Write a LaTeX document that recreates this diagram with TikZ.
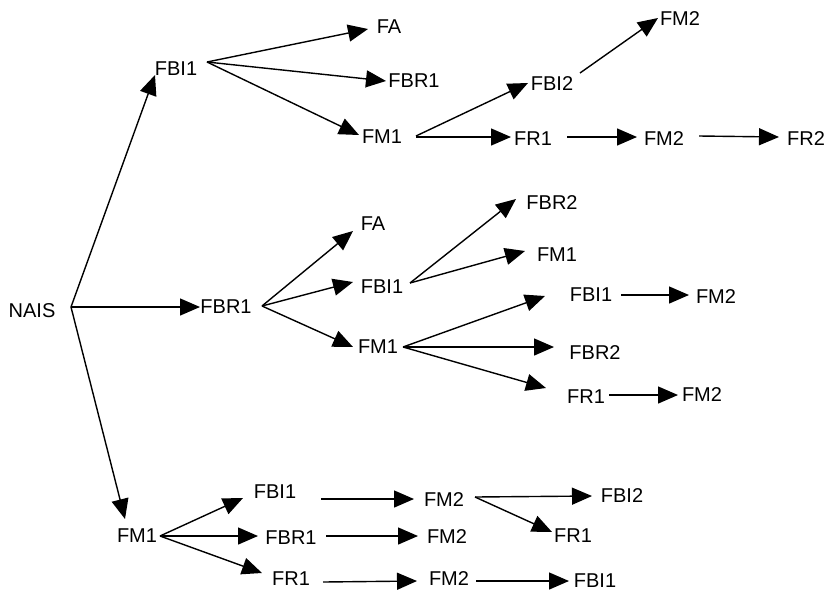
\documentclass[tikz,border=0pt]{standalone}
\usepackage{fontspec}
\setmainfont{Liberation Sans}
\usetikzlibrary{arrows.meta}
\begin{document}
\begin{tikzpicture}[x=1pt,y=-1pt,
  lbl/.style={anchor=base,inner sep=0pt,font=\fontsize{20}{23}\selectfont},
  arr/.style={line width=1.4pt,-{Triangle[length=20pt,width=17pt]}}]
\useasboundingbox[fill=white] (0,0) rectangle (826,592);
% nodes (anchor base at centre x, baseline)
\node[lbl] (nais)  at (32,317) {NAIS};
\node[lbl] (fbi1a) at (176,75) {FBI1};
\node[lbl] (faa)   at (389,33) {FA};
\node[lbl] (fbr1a) at (414,87) {FBR1};
\node[lbl] (fm1a)  at (382,143) {FM1};
\node[lbl] (fbi2a) at (552,90) {FBI2};
\node[lbl] (fm2a)  at (680,25) {FM2};
\node[lbl] (fr1a)  at (533,145) {FR1};
\node[lbl] (fm2b)  at (664,145) {FM2};
\node[lbl] (fr2a)  at (806,145) {FR2};
\node[lbl] (fbr1b) at (226,313) {FBR1};
\node[lbl] (fab)   at (373,230) {FA};
\node[lbl] (fbi1b) at (382,293) {FBI1};
\node[lbl] (fm1b)  at (378,353) {FM1};
\node[lbl] (fbr2a) at (552,209) {FBR2};
\node[lbl] (fm1c)  at (557,261) {FM1};
\node[lbl] (fbi1c) at (591,301) {FBI1};
\node[lbl] (fm2c)  at (716,303) {FM2};
\node[lbl] (fbr2b) at (595,359) {FBR2};
\node[lbl] (fr1b)  at (586,403) {FR1};
\node[lbl] (fm2d)  at (702,401) {FM2};
\node[lbl] (fm1d)  at (137,542) {FM1};
\node[lbl] (fbi1d) at (275,498) {FBI1};
\node[lbl] (fbr1d) at (291,544) {FBR1};
\node[lbl] (fr1d)  at (291,585) {FR1};
\node[lbl] (fm2e)  at (444,506) {FM2};
\node[lbl] (fm2f)  at (447,543) {FM2};
\node[lbl] (fm2g)  at (449,585) {FM2};
\node[lbl] (fbi2b) at (622,502) {FBI2};
\node[lbl] (fr1e)  at (573,542) {FR1};
\node[lbl] (fbi1e) at (595,587) {FBI1};
% connectors
\draw[arr] ([shift={(39,-10)}]nais.base) -- ([shift={(-21,0)}]fbi1a.base);
\draw[arr] ([shift={(39,-10)}]nais.base) -- ([shift={(-26,-6)}]fbr1b.base);
\draw[arr] ([shift={(39,-10)}]nais.base) -- ([shift={(-12,-23)}]fm1d.base);
\draw[arr] ([shift={(31,-13)}]fbi1a.base) -- ([shift={(-21,-4)}]faa.base);
\draw[arr] ([shift={(31,-13)}]fbi1a.base) -- ([shift={(-28,-6)}]fbr1a.base);
\draw[arr] ([shift={(31,-13)}]fbi1a.base) -- ([shift={(-23,-8)}]fm1a.base);
\draw[arr] ([shift={(34,-7)}]fm1a.base) -- ([shift={(-24,-7)}]fbi2a.base);
\draw[arr] ([shift={(34,-6)}]fm1a.base) -- ([shift={(-22,-8)}]fr1a.base);
\draw[arr] ([shift={(28,-17)}]fbi2a.base) -- ([shift={(-22,-7)}]fm2a.base);
\draw[arr] ([shift={(34,-8)}]fr1a.base) -- ([shift={(-27,-8)}]fm2b.base);
\draw[arr] ([shift={(35,-9)}]fm2b.base) -- ([shift={(-27,-8)}]fr2a.base);
\draw[arr] ([shift={(36,-7)}]fbr1b.base) -- ([shift={(-20,1)}]fab.base);
\draw[arr] ([shift={(36,-7)}]fbr1b.base) -- ([shift={(-29,-11)}]fbi1b.base);
\draw[arr] ([shift={(36,-7)}]fbr1b.base) -- ([shift={(-25,-6)}]fm1b.base);
\draw[arr] ([shift={(28,-10)}]fbi1b.base) -- ([shift={(-36,-10)}]fbr2a.base);
\draw[arr] ([shift={(28,-10)}]fbi1b.base) -- ([shift={(-32,-10)}]fm1c.base);
\draw[arr] ([shift={(25,-6)}]fm1b.base) -- ([shift={(-46,-5)}]fbi1c.base);
\draw[arr] ([shift={(25,-6)}]fm1b.base) -- ([shift={(-41,-12)}]fbr2b.base);
\draw[arr] ([shift={(25,-6)}]fm1b.base) -- ([shift={(-40,-15)}]fr1b.base);
\draw[arr] ([shift={(30,-6)}]fbi1c.base) -- ([shift={(-27,-8)}]fm2c.base);
\draw[arr] ([shift={(23,-8)}]fr1b.base) -- ([shift={(-24,-6)}]fm2d.base);
\draw[arr] ([shift={(23,-6)}]fm1d.base) -- ([shift={(-32,0)}]fbi1d.base);
\draw[arr] ([shift={(23,-6)}]fm1d.base) -- ([shift={(-33,-8)}]fbr1d.base);
\draw[arr] ([shift={(23,-6)}]fm1d.base) -- ([shift={(-29,-12)}]fr1d.base);
\draw[arr] ([shift={(46,1)}]fbi1d.base) -- ([shift={(-30,-7)}]fm2e.base);
\draw[arr] ([shift={(35,-8)}]fbr1d.base) -- ([shift={(-29,-7)}]fm2f.base);
\draw[arr] ([shift={(32,-3)}]fr1d.base) -- ([shift={(-32,-4)}]fm2g.base);
\draw[arr] ([shift={(31,-9)}]fm2e.base) -- ([shift={(-30,-6)}]fbi2b.base);
\draw[arr] ([shift={(31,-9)}]fm2e.base) -- ([shift={(-21,-10)}]fr1e.base);
\draw[arr] ([shift={(27,-4)}]fm2g.base) -- ([shift={(-26,-6)}]fbi1e.base);
\end{tikzpicture}
\end{document}
